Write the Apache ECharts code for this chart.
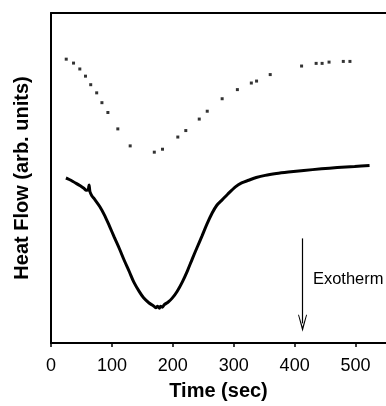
<!DOCTYPE html>
<html>
<head>
<meta charset="utf-8">
<style>
html,body{margin:0;padding:0;background:#fff;}
#chart{width:386px;height:406px;}
</style>
<script src="https://cdn.jsdelivr.net/npm/echarts@6/dist/echarts.min.js"></script>
</head>
<body>
<div id="chart"></div>
<script>
// Tick labels for time axis (sec)
var timeTicks = [0, 100, 200, 300, 400, 500];

// Dotted (upper) trace: time (sec), heat flow (arb. units)
var dotTime = [25, 37, 47.3, 56.6, 65.2, 75, 83.6, 93.4, 109.7, 130, 169.6, 183.1, 208.2, 221.3, 243.4, 256.5, 281, 306, 328.9, 337.5, 359.9, 411.4, 435.3, 445.1, 456.5, 479.9, 490.8];
var dotFlow = [289, 285, 279, 271.7, 263, 254.7, 244.7, 234.7, 218, 200.7, 194.3, 197.3, 209.7, 216.3, 228, 236, 248.7, 258, 264.7, 266.7, 273.3, 282, 284.7, 284.7, 286, 286.7, 286.7];

// Solid (lower) trace
var lineTime = [24.5, 30, 36, 42, 48, 54, 58, 61, 62.5, 64, 67, 72, 80, 88, 96, 104, 112.5, 120, 128.8, 136, 145, 152, 161, 168, 172, 175, 178, 180, 183, 186, 192, 199, 207, 215.7, 224, 232, 240, 248, 256, 264.6, 272, 281, 290, 302.8, 313, 324.5, 337, 351.7, 370, 389.7, 415, 444, 470, 498.5, 523];
var lineFlow = [168, 166.5, 164.5, 162.3, 160, 157.5, 155.5, 156, 161, 154, 150, 146, 139, 130, 119, 107.5, 95.7, 84.5, 72.3, 62, 52.3, 46, 40.7, 38, 36, 37.5, 35.5, 37.5, 36.5, 39, 41.5, 45.7, 52.5, 62.3, 73.5, 85.7, 97.5, 109, 121, 132.3, 140, 145.7, 151.5, 159, 163, 165.7, 168.5, 170.7, 172.5, 174, 175.7, 177.3, 178.6, 179.7, 180.7];

// Exotherm arrow (time, flow) start and end
var arrowTime = 413;
var arrowFlow = [106.5, 20];
var exoLabelPos = [430, 69];

var dotData = dotTime.map(function (t, i) { return [t, dotFlow[i]]; });
var lineData = lineTime.map(function (t, i) { return [t, lineFlow[i]]; });

var FONT = 'Liberation Sans, Arial, sans-serif';
var chart = echarts.init(document.getElementById('chart'), null, {renderer: 'canvas'});

chart.setOption({
  backgroundColor: '#fff',
  animation: false,
  grid: {left: 51, top: 13, width: 337, height: 336, containLabel: false},
  xAxis: [{
    type: 'value', min: 0, max: 550, interval: 100,
    name: 'Time (sec)', nameLocation: 'middle', nameGap: 38,
    nameTextStyle: {fontFamily: FONT, fontSize: 20, fontWeight: 'bold', color: '#000'},
    axisLine: {show: true, onZero: false, lineStyle: {color: '#000', width: 2}},
    axisTick: {show: true, inside: false, length: 4, lineStyle: {color: '#000', width: 1.5}, customValues: timeTicks},
    axisLabel: {fontFamily: FONT, fontSize: 18, color: '#000', margin: 14, customValues: timeTicks},
    splitLine: {show: false}
  }, {
    type: 'value', min: 0, max: 550, position: 'top',
    axisLine: {show: true, onZero: false, lineStyle: {color: '#000', width: 2}},
    axisTick: {show: false}, axisLabel: {show: false}, splitLine: {show: false}
  }],
  yAxis: {
    type: 'value', min: 0, max: 336,
    name: 'Heat Flow (arb. units)', nameLocation: 'middle', nameGap: 19,
    nameTextStyle: {fontFamily: FONT, fontSize: 20, fontWeight: 'bold', color: '#000'},
    axisLine: {show: true, onZero: false, lineStyle: {color: '#000', width: 2}},
    axisTick: {show: false}, axisLabel: {show: false}, splitLine: {show: false}
  },
  series: [{
    type: 'scatter', data: dotData, symbol: 'rect', symbolSize: 3,
    itemStyle: {color: '#000'}, silent: true,
    markLine: {
      silent: true, animation: false,
      symbol: ['none', 'path://M5,0 L10,10 L9,10 L5,3 L1,10 L0,10 Z'],
      symbolSize: [9, 17],
      lineStyle: {color: '#000', width: 1.2, type: 'solid'},
      label: {show: false},
      data: [[{coord: [arrowTime, arrowFlow[0]]}, {coord: [arrowTime, arrowFlow[1]]}]]
    }
  }, {
    type: 'line', data: lineData, showSymbol: false, smooth: 0.3,
    lineStyle: {color: '#000', width: 3}, silent: true
  }]
});

var p = chart.convertToPixel({gridIndex: 0}, exoLabelPos);
chart.setOption({
  graphic: [{
    type: 'text', left: p[0], top: p[1] - 4,
    style: {text: 'Exotherm', font: '16.5px ' + FONT, fill: '#000'}
  }]
});
</script>
</body>
</html>
